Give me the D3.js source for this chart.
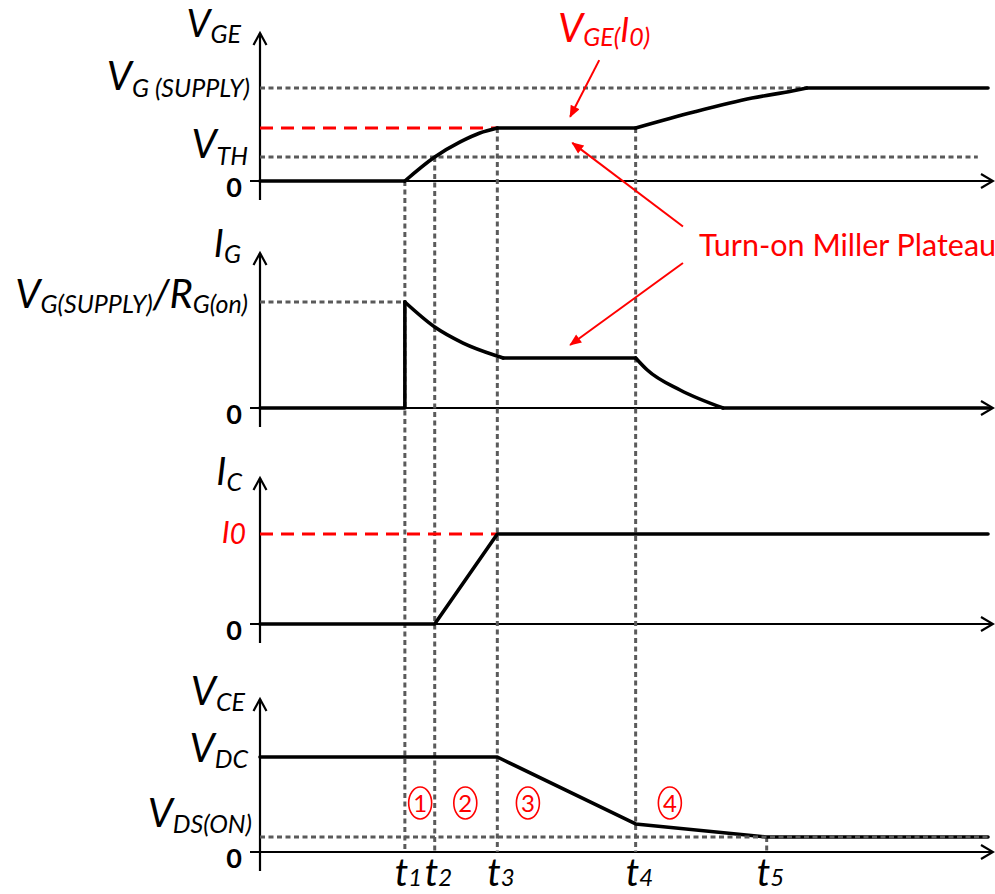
<!DOCTYPE html>
<html><head><meta charset="utf-8">
<script src="https://cdn.jsdelivr.net/npm/d3@7"></script>
<style>
html,body{margin:0;padding:0;background:#fff;}
svg{display:block;}
text{font-family:Lato,"Open Sans","Noto Sans",sans-serif;}
</style></head>
<body>
<script>
// ---------------- DATA ----------------
const tMarks = [19.9, 24.0, 32.6, 51.6, 69.6];
const tSubs = ["1", "2", "3", "4", "5"];
const phaseT = [22.0, 28.2, 36.8, 56.3];
const phaseNames = ["1", "2", "3", "4"];

// V_GE (normalised to V_G(SUPPLY) = 1)
const vgeLevels = { supply: 1, plateau: 0.57, vth: 0.258 };
const vgeSegments = [
  [[0, 0], [19.9, 0]],
  [[19.9, 0], [24.0, 0.258], [27.5, 0.42], [30.2, 0.516], [32.6, 0.57]],
  [[32.6, 0.57], [51.6, 0.57]],
  [[51.6, 0.57], [59.6, 0.742], [67.6, 0.892], [73.1, 0.968], [75.1, 1]],
  [[75.1, 1], [100, 1]]
];
// I_G (normalised to V_G(SUPPLY)/R_G(on) = 1)
const igLevels = { peak: 1, plateau: 0.472 };
const igSegments = [
  [[0, 0], [19.9, 0], [19.9, 1]],
  [[19.9, 1], [24.0, 0.764], [27.9, 0.613], [32.6, 0.49], [33.4, 0.472]],
  [[33.4, 0.472], [51.6, 0.472]],
  [[51.6, 0.472], [53.2, 0.358], [57.7, 0.17], [63.6, 0]],
  [[63.6, 0], [100, 0]]
];
// I_C (normalised to I0 = 1)
const icLevels = { i0: 1 };
const icPoints = [[0, 0], [24.0, 0], [32.6, 1], [100, 1]];
// V_CE (normalised to V_DC = 1)
const vceLevels = { vdc: 1, vdsOn: 0.158 };
const vcePoints = [[0, 1], [32.6, 1], [51.6, 0.295], [69.6, 0.158], [100, 0.158]];

// ---------------- LAYOUT ----------------
const W = 995, H = 894;
const RED = "#ff0000", GRAY = "#5a5a5a";
const x = d3.scaleLinear().domain([0, 100]).range([260, 988]);
const yVGE = d3.scaleLinear().domain([0, 1]).range([181, 88]);
const yIG = d3.scaleLinear().domain([0, 1]).range([408, 302]);
const yIC = d3.scaleLinear().domain([0, 1]).range([624, 534]);
const yVCE = d3.scaleLinear().domain([0, 1]).range([852, 757]);
const axisTops = [33, 253, 478, 699];
const scales = [yVGE, yIG, yIC, yVCE];

const svg = d3.select("body").append("svg").attr("width", W).attr("height", H);

// ---------- axes ----------
scales.forEach((s, i) => {
  const z = s(0);
  const ax = svg.append("g").attr("stroke", "#000").attr("fill", "none").attr("stroke-width", 2.2);
  ax.append("line").attr("x1", x(0)).attr("x2", x(0)).attr("y1", axisTops[i]).attr("y2", z + 19);
  ax.append("line").attr("x1", x(0) - 10).attr("x2", 993).attr("y1", z).attr("y2", z);
  ax.append("path").attr("d", `M${x(0) - 6.5},${axisTops[i] + 12} L${x(0)},${axisTops[i]} L${x(0) + 6.5},${axisTops[i] + 12}`);
  ax.append("path").attr("d", `M${981},${z - 7} L${993},${z} L${981},${z + 7}`);
});

// ---------- gray dashed reference lines (under curves) ----------
const gdash = svg.append("g").attr("stroke", GRAY).attr("stroke-width", 3).attr("stroke-dasharray", "5,3.5").attr("fill", "none");
gdash.append("line").attr("x1", x(0)).attr("x2", x(75.1)).attr("y1", yVGE(vgeLevels.supply)).attr("y2", yVGE(vgeLevels.supply));
gdash.append("line").attr("x1", x(0)).attr("x2", x(98.6)).attr("y1", yVGE(vgeLevels.vth)).attr("y2", yVGE(vgeLevels.vth));
gdash.append("line").attr("x1", x(0)).attr("x2", x(tMarks[0])).attr("y1", yIG(igLevels.peak)).attr("y2", yIG(igLevels.peak));

// vertical time markers
const vStarts = [yVGE(0), yVGE(vgeLevels.vth), yVGE(vgeLevels.plateau), yVGE(vgeLevels.plateau), yVCE(vceLevels.vdsOn)];
tMarks.forEach((t, i) => {
  gdash.append("line").attr("x1", x(t)).attr("x2", x(t)).attr("y1", vStarts[i]).attr("y2", yVCE(0));
});

// red dashed
const rdash = svg.append("g").attr("stroke", RED).attr("stroke-width", 3).attr("stroke-dasharray", "13,8").attr("fill", "none");
rdash.append("line").attr("x1", x(0)).attr("x2", x(tMarks[2])).attr("y1", yVGE(vgeLevels.plateau)).attr("y2", yVGE(vgeLevels.plateau));
rdash.append("line").attr("x1", x(0)).attr("x2", x(tMarks[2])).attr("y1", yIC(icLevels.i0)).attr("y2", yIC(icLevels.i0));

// ---------- curves ----------
const curves = svg.append("g").attr("stroke", "#000").attr("stroke-width", 3.6).attr("fill", "none")
  .attr("stroke-linejoin", "round").attr("stroke-linecap", "round");
function drawSegments(segs, ys, smooth) {
  segs.forEach(seg => {
    const straight = !smooth || seg.length <= 2 || seg.some((p, k) => k > 0 && p[0] === seg[k - 1][0]);
    const gen = d3.line().x(d => x(d[0])).y(d => ys(d[1])).curve(straight ? d3.curveLinear : d3.curveMonotoneX);
    curves.append("path").attr("d", gen(seg));
  });
}
drawSegments(vgeSegments, yVGE, true);
drawSegments(igSegments, yIG, true);
drawSegments([icPoints], yIC, false);
drawSegments([vcePoints], yVCE, false);

// V_DS(ON) dashed on top
svg.append("line").attr("stroke", GRAY).attr("stroke-width", 3).attr("stroke-dasharray", "5,3.5")
  .attr("x1", x(0)).attr("x2", x(100)).attr("y1", yVCE(vceLevels.vdsOn)).attr("y2", yVCE(vceLevels.vdsOn));

// ---------- labels ----------
function label(xr, y, parts, color, anchor) {
  const t = svg.append("text").attr("x", xr).attr("y", y).attr("text-anchor", anchor || "end")
    .attr("fill", color || "#000").attr("font-style", "italic");
  let cur = 0;
  parts.forEach(([txt, size, off]) => {
    t.append("tspan").attr("font-size", size).attr("dy", off - cur).text(txt);
    cur = off;
  });
  return t;
}
// panel 1
label(241, 37, [["V", 38, 0], ["GE", 25, 6]]);
label(250, 90, [["V", 40, 0], ["G (SUPPLY)", 25, 7]]);
label(248, 158, [["V", 40, 0], ["TH", 25, 7]]);
// panel 2
label(241, 257, [["I", 38, 0], ["G", 25, 6]]);
label(248, 308, [["V", 40, 0], ["G(SUPPLY)", 25, 5], ["/", 40, 0], ["R", 40, 0], ["G(on)", 25, 5]]);
// panel 3
label(242, 485, [["I", 38, 0], ["C", 25, 6]]);
label(246, 543, [["I", 30, 0], ["0", 28, 1]], RED);
// panel 4
label(245, 705, [["V", 40, 0], ["CE", 25, 6]]);
label(248, 762, [["V", 40, 0], ["DC", 25, 6]]);
label(252, 827, [["V", 40, 0], ["DS(ON)", 25, 6]]);

// zero labels
scales.forEach(s => {
  svg.append("text").attr("x", 242).attr("y", s(0) + 16).attr("text-anchor", "end")
    .attr("font-weight", "bold").attr("font-size", 27).text("0");
});

// time labels
tMarks.forEach((t, i) => {
  const tx = svg.append("text").attr("x", x(t) - 10).attr("y", 886).attr("font-style", "italic");
  tx.append("tspan").attr("font-size", 38).text("t");
  tx.append("tspan").attr("font-size", 24).text(tSubs[i]);
});

// phase markers (circled digits)
phaseT.forEach((t, i) => {
  svg.append("ellipse").attr("cx", x(t)).attr("cy", 803).attr("rx", 11.5).attr("ry", 16)
    .attr("fill", "none").attr("stroke", RED).attr("stroke-width", 1.6);
  svg.append("text").attr("x", x(t)).attr("y", 812).attr("text-anchor", "middle")
    .attr("fill", RED).attr("font-size", 24).text(phaseNames[i]);
});

// ---------- annotations ----------
const defs = svg.append("defs");
defs.append("marker").attr("id", "ah").attr("viewBox", "0 0 12 10").attr("refX", 11).attr("refY", 5)
  .attr("markerWidth", 13).attr("markerHeight", 10).attr("markerUnits", "userSpaceOnUse").attr("orient", "auto")
  .append("path").attr("d", "M0,0 L12,5 L0,10 Z").attr("fill", RED);

label(558, 42, [["V", 40, 0], ["GE(", 25, 4], ["I", 34, 0], ["0)", 25, 4]], RED, "start");

const ann = svg.append("g").attr("stroke", RED).attr("stroke-width", 2).attr("fill", "none");
ann.append("line").attr("x1", x(46.6)).attr("y1", yVGE(1.30)).attr("x2", x(42.6)).attr("y2", yVGE(0.69)).attr("marker-end", "url(#ah)");
ann.append("line").attr("x1", x(58.1)).attr("y1", yVGE(-0.49)).attr("x2", x(42.9)).attr("y2", yVGE(0.41)).attr("marker-end", "url(#ah)");
ann.append("line").attr("x1", x(58.1)).attr("y1", yIG(1.368)).attr("x2", x(42.6)).attr("y2", yIG(0.594)).attr("marker-end", "url(#ah)");

svg.append("text").attr("x", 699).attr("y", 256).attr("fill", RED).attr("font-size", 30.5).text("Turn-on Miller Plateau");
</script>
</body></html>
